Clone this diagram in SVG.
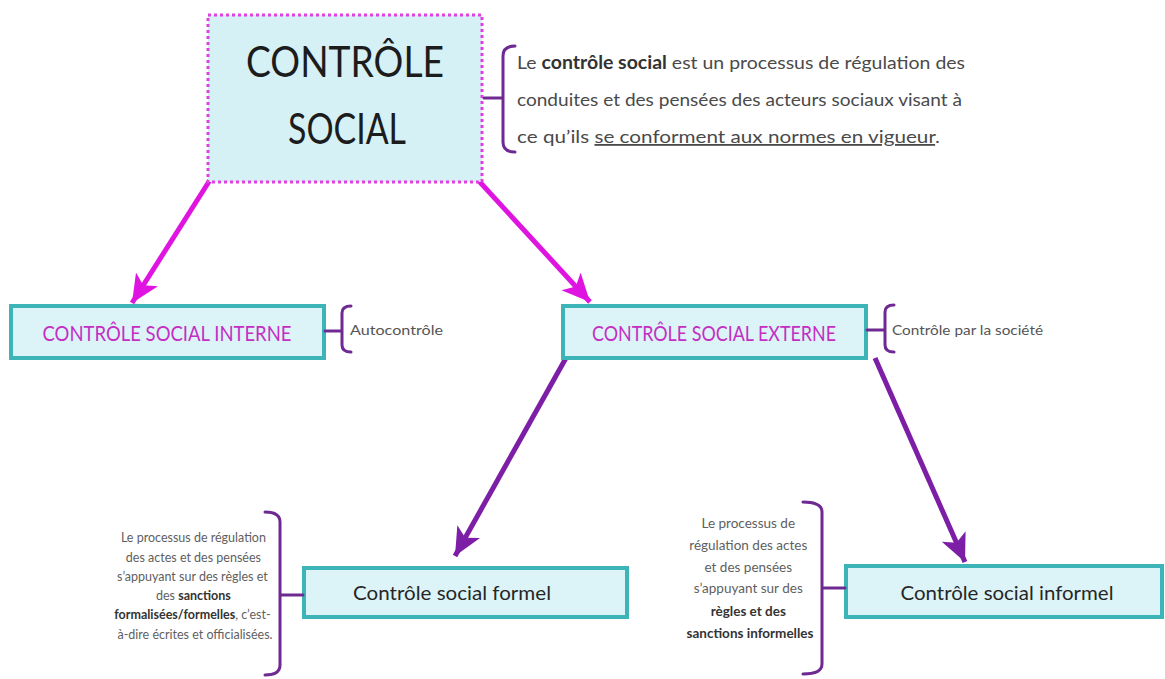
<svg xmlns="http://www.w3.org/2000/svg" width="1165" height="679" viewBox="0 0 1165 679">
  <defs>
    <style>
      .t { font-family: Lato, "Liberation Sans", sans-serif; }
      .box { fill: #dcf4f7; stroke: #3db5b8; stroke-width: 4; }
      .brace { fill: none; stroke: #6e2a92; stroke-width: 3; stroke-linecap: round; }
      .mag { stroke: #e014e0; stroke-width: 5; fill: none; }
      .pur { stroke: #7d1ea6; stroke-width: 5; fill: none; }
      .def { font-size: 18px; fill: #4a4a4a; }
      .small { font-size: 14px; fill: #555; }
      .note { font-size: 13.5px; fill: #606060; }
      .note2 { font-size: 12.5px; fill: #606060; }
      .b { font-weight: bold; fill: #333; }
    </style>
    <marker id="ahM" markerUnits="userSpaceOnUse" markerWidth="32" markerHeight="32" refX="28" refY="13" orient="auto">
      <path d="M0,0 L28,13 L0,26 L7,13 Z" fill="#e014e0"/>
    </marker>
    <marker id="ahP" markerUnits="userSpaceOnUse" markerWidth="32" markerHeight="32" refX="28" refY="13" orient="auto">
      <path d="M0,0 L28,13 L0,26 L7,13 Z" fill="#7d1ea6"/>
    </marker>
  </defs>
  <rect width="1165" height="679" fill="#ffffff"/>

  <g id="connectors">
    <line class="mag" x1="210" y1="180" x2="132" y2="303" marker-end="url(#ahM)"/>
    <line class="mag" x1="478" y1="180" x2="590" y2="302" marker-end="url(#ahM)"/>
    <line class="pur" x1="566" y1="358" x2="455" y2="556" marker-end="url(#ahP)"/>
    <line class="pur" x1="875" y1="358" x2="965" y2="562" marker-end="url(#ahP)"/>
  </g>

  <g id="controle-social">
    <rect x="208" y="15" width="274" height="167" fill="#d6f1f5" stroke="#e040e0" stroke-width="3" stroke-dasharray="3 3"/>
    <text class="t" x="345" y="77" font-size="43" fill="#1c1c1c" text-anchor="middle" textLength="198" lengthAdjust="spacingAndGlyphs">CONTRÔLE</text>
    <text class="t" x="347" y="144" font-size="43" fill="#1c1c1c" text-anchor="middle" textLength="118" lengthAdjust="spacingAndGlyphs">SOCIAL</text>
  </g>

  <g id="definition">
    <path class="brace" d="M515,46 Q503,46 503,56 L503,142 Q503,152 515,152 M484,98 L503,98"/>
    <text class="t def" x="517" y="69" textLength="448" lengthAdjust="spacingAndGlyphs">Le <tspan class="b">contrôle social</tspan> est un processus de régulation des</text>
    <text class="t def" x="517" y="106" textLength="445" lengthAdjust="spacingAndGlyphs">conduites et des pensées des acteurs sociaux visant à</text>
    <text class="t def" x="517" y="143" textLength="423" lengthAdjust="spacingAndGlyphs">ce qu’ils <tspan text-decoration="underline">se conforment aux normes en vigueur</tspan>.</text>
  </g>

  <g id="interne">
    <rect class="box" x="11" y="306" width="313" height="52"/>
    <text class="t" x="167" y="341" font-size="22" fill="#c42ec4" text-anchor="middle" textLength="249" lengthAdjust="spacingAndGlyphs">CONTRÔLE SOCIAL INTERNE</text>
  </g>
  <g id="autocontrole">
    <path class="brace" d="M351,306 Q342,306 342,313 L342,345 Q342,352 351,352 M325,331 L342,331"/>
    <text class="t small" x="350" y="335" textLength="93" lengthAdjust="spacingAndGlyphs">Autocontrôle</text>
  </g>

  <g id="externe">
    <rect class="box" x="563" y="306" width="303" height="52"/>
    <text class="t" x="714" y="341" font-size="22" fill="#c42ec4" text-anchor="middle" textLength="244" lengthAdjust="spacingAndGlyphs">CONTRÔLE SOCIAL EXTERNE</text>
  </g>
  <g id="par-la-societe">
    <path class="brace" d="M894,305 Q885,305 885,312 L885,345 Q885,352 894,352 M867,330 L885,330"/>
    <text class="t small" x="892" y="335" textLength="151" lengthAdjust="spacingAndGlyphs">Contrôle par la société</text>
  </g>

  <g id="formel">
    <rect class="box" x="304" y="568" width="323" height="49"/>
    <text class="t" x="452" y="600" font-size="20" fill="#262626" text-anchor="middle" textLength="198" lengthAdjust="spacingAndGlyphs">Contrôle social formel</text>
  </g>
  <g id="formel-def">
    <path class="brace" d="M265,512 Q280,512 280,522 L280,665 Q280,675 265,675 M280,595 L303,595"/>
    <text class="t note2" text-anchor="middle">
      <tspan x="195" y="542">Le processus de régulation</tspan>
      <tspan x="195" y="562">des actes et des pensées</tspan>
      <tspan x="194" y="581">s’appuyant sur des règles et</tspan>
      <tspan x="195" y="600">des <tspan class="b">sanctions</tspan></tspan>
      <tspan x="194" y="619"><tspan class="b">formalisées/formelles</tspan>, c’est-</tspan>
      <tspan x="195" y="639">à-dire écrites et officialisées.</tspan>
    </text>
  </g>

  <g id="informel">
    <rect class="box" x="846" y="566" width="316" height="51"/>
    <text class="t" x="1007" y="600" font-size="20" fill="#262626" text-anchor="middle" textLength="213" lengthAdjust="spacingAndGlyphs">Contrôle social informel</text>
  </g>
  <g id="informel-def">
    <path class="brace" d="M803,502 Q822,502 822,512 L822,664 Q822,674 803,674 M822,588 L845,588"/>
    <text class="t note" text-anchor="middle">
      <tspan x="750" y="528">Le processus de</tspan>
      <tspan x="750" y="550">régulation des actes</tspan>
      <tspan x="750" y="572">et des pensées</tspan>
      <tspan x="750" y="593">s’appuyant sur des</tspan>
      <tspan x="750" y="616" class="b">règles et des</tspan>
      <tspan x="750" y="638" class="b">sanctions informelles</tspan>
    </text>
  </g>
</svg>
